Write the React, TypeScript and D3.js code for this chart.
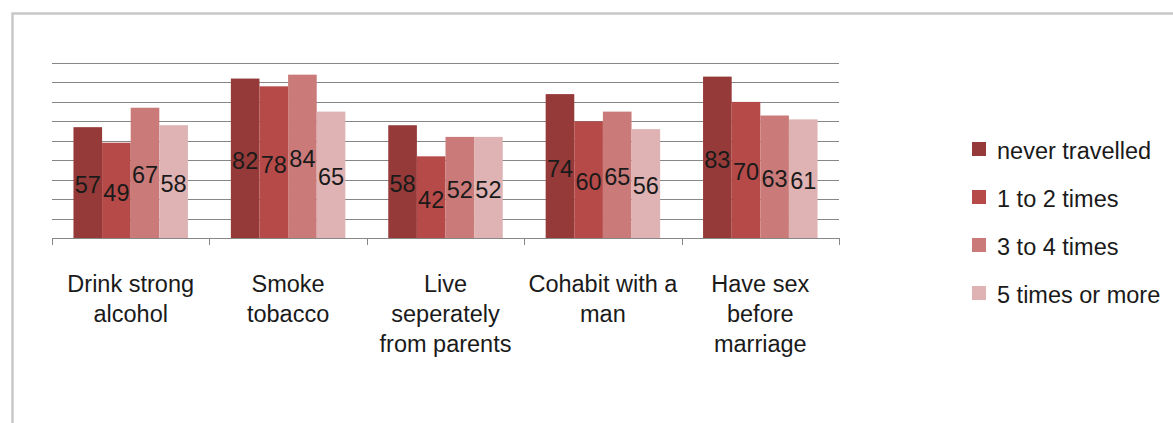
import React from "react";
import * as d3 from "d3";

const categories: string[][] = [
  ["Drink strong", "alcohol"],
  ["Smoke", "tobacco"],
  ["Live", "seperately", "from parents"],
  ["Cohabit with a", "man"],
  ["Have sex", "before", "marriage"],
];
const seriesNames = ["never travelled", "1 to 2 times", "3 to 4 times", "5 times or more"];
const neverTravelled = [57, 82, 58, 74, 83];
const oneToTwo = [49, 78, 42, 60, 70];
const threeToFour = [67, 84, 52, 65, 63];
const fiveOrMore = [58, 65, 52, 56, 61];
const seriesColors = ["#953A38", "#B54A48", "#CB7A7A", "#DFB3B3"];
const gridTicks = [0, 10, 20, 30, 40, 50, 60, 70, 80, 90];

const W = 1173;
const H = 423;
const FONT = "'Liberation Sans', Arial, sans-serif";

export default function App() {
  const series = [neverTravelled, oneToTwo, threeToFour, fiveOrMore];
  const keys = categories.map((c) => c.join(" "));
  const x = d3.scaleBand<string>().domain(keys).range([52, 839]).padding(0);
  const y = d3.scaleLinear().domain([0, 90]).range([238, 63]);
  const bw = x.bandwidth();
  const barW = bw / 5.5;
  const inner = d3
    .scaleBand<number>()
    .domain([0, 1, 2, 3])
    .range([bw * 0.75 / 5.5, bw * 0.75 / 5.5 + 4 * barW])
    .padding(0);
  const tickXs = [...keys.map((k) => x(k) as number), 839];

  return (
    <svg
      width={W}
      height={H}
      style={{ position: "absolute", left: 0, top: 0, background: "#fff" }}
      fontFamily={FONT}
    >
      <rect x={12.5} y={13.5} width={W + 20} height={H + 20} fill="#fff" stroke="#C8C8C8" strokeWidth={2.5} />
      {gridTicks.map((t) => (
        <line key={t} x1={52} x2={839} y1={Math.round(y(t)) + 0.5} y2={Math.round(y(t)) + 0.5} stroke="#878787" strokeWidth={1} />
      ))}
      {tickXs.map((tx, i) => (
        <line key={i} x1={Math.round(tx) + 0.5} x2={Math.round(tx) + 0.5} y1={238} y2={245} stroke="#878787" strokeWidth={1} />
      ))}
      {keys.map((k, ci) =>
        series.map((s, si) => {
          const bx = (x(k) as number) + (inner(si) as number);
          const top = y(s[ci]);
          return (
            <rect key={k + si} x={bx} y={top} width={inner.bandwidth()} height={y(0) - top} fill={seriesColors[si]} />
          );
        })
      )}
      {keys.map((k, ci) =>
        series.map((s, si) => {
          const cx = (x(k) as number) + (inner(si) as number) + inner.bandwidth() / 2;
          const mid = (y(s[ci]) + y(0)) / 2;
          return (
            <text key={"l" + k + si} x={cx} y={mid + 10.5} textAnchor="middle" fontSize={23.5} fill="#1a1a1a">
              {s[ci]}
            </text>
          );
        })
      )}
      {categories.map((lines, ci) => {
        const cx = (x(keys[ci]) as number) + bw / 2;
        return (
          <text key={"c" + ci} textAnchor="middle" fontSize={23.5} fill="#1a1a1a">
            {lines.map((ln, li) => (
              <tspan key={li} x={cx} y={292 + li * 30}>
                {ln}
              </tspan>
            ))}
          </text>
        );
      })}
      {seriesNames.map((n, i) => {
        const cy = 149 + i * 48;
        return (
          <g key={n}>
            <rect x={972} y={cy - 7} width={14} height={14} fill={seriesColors[i]} />
            <text x={997} y={cy + 10} fontSize={23.5} fill="#1a1a1a">
              {n}
            </text>
          </g>
        );
      })}
    </svg>
  );
}
